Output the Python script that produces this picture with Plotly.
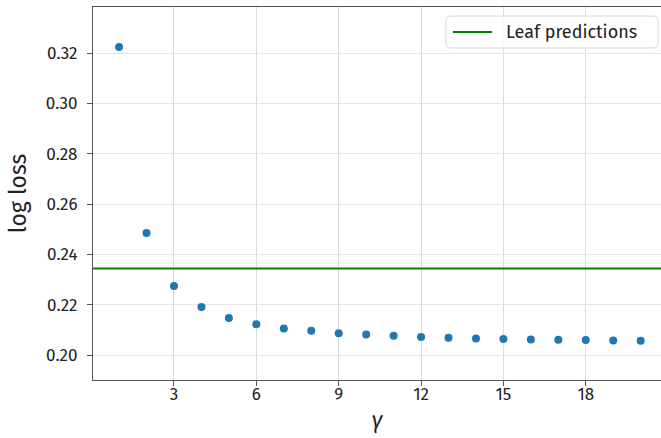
import plotly.graph_objects as go

gamma = list(range(1, 21))
log_loss = [0.3224, 0.2485, 0.2274, 0.2191, 0.2147, 0.2123, 0.2106, 0.2097, 0.2087, 0.2082,
            0.2077, 0.2072, 0.2069, 0.2066, 0.2064, 0.2062, 0.2061, 0.2060, 0.2058, 0.2057]
leaf_pred = 0.2344
legend_label = "Leaf predictions"

x_ticks = [3, 6, 9, 12, 15, 18]
y_ticks = [0.20, 0.22, 0.24, 0.26, 0.28, 0.30, 0.32]

font = "Fira Sans, Lato, Noto Sans, sans-serif"

W, H = 661, 438
ML, MR, MT, MB = 93, 0, 7, 58
PW, PH = W - ML - MR, H - MT - MB


def px(x):
    return (x - ML) / PW


def py(y):
    return (H - MB - y) / PH


fig = go.Figure()
fig.add_trace(go.Scatter(x=[0.05, 20.74], y=[leaf_pred, leaf_pred], mode="lines",
                         line=dict(color="#008000", width=2), name=legend_label,
                         showlegend=False))
fig.add_trace(go.Scatter(x=gamma, y=log_loss, mode="markers",
                         marker=dict(color="#1f77b4", size=8), showlegend=False))

# legend box (rounded) drawn by hand
x0, x1, y0, y1, r = 446, 658, 16, 48, 4
path = (f"M {px(x0 + r)},{py(y0)} L {px(x1 - r)},{py(y0)} Q {px(x1)},{py(y0)} {px(x1)},{py(y0 + r)} "
        f"L {px(x1)},{py(y1 - r)} Q {px(x1)},{py(y1)} {px(x1 - r)},{py(y1)} "
        f"L {px(x0 + r)},{py(y1)} Q {px(x0)},{py(y1)} {px(x0)},{py(y1 - r)} "
        f"L {px(x0)},{py(y0 + r)} Q {px(x0)},{py(y0)} {px(x0 + r)},{py(y0)} Z")
fig.add_shape(type="path", path=path, xref="paper", yref="paper",
              line=dict(color="#d9d9d9", width=1), fillcolor="rgba(255,255,255,0.85)")
fig.add_shape(type="line", xref="paper", yref="paper",
              x0=px(453), x1=px(492), y0=py(32), y1=py(32),
              line=dict(color="#008000", width=2))
fig.add_annotation(text=legend_label, xref="paper", yref="paper",
                   x=px(504), y=py(32), xanchor="left", yanchor="middle",
                   showarrow=False, font=dict(size=18, color="#222"))

fig.update_layout(
    width=W, height=H,
    margin=dict(l=ML, r=MR, t=MT, b=MB),
    plot_bgcolor="white", paper_bgcolor="white",
    font=dict(family=font, size=17, color="#222"),
    showlegend=False,
    xaxis=dict(range=[0.05, 20.74], tickvals=x_ticks, showgrid=True, gridcolor="#dcdcdc",
               showline=True, linecolor="#555", linewidth=1.2, mirror=True,
               ticks="outside", ticklen=5, tickcolor="#555", zeroline=False,
               ticklabelstandoff=-7,
               title=dict(text="<i>γ</i>", font=dict(size=23), standoff=8)),
    yaxis=dict(range=[0.1901, 0.3383], tickvals=y_ticks, tickformat=".2f",
               showgrid=True, gridcolor="#e6e6e6",
               showline=True, linecolor="#555", linewidth=1.2,
               ticks="outside", ticklen=5, tickcolor="#555", zeroline=False,
               ticklabelstandoff=6,
               title=dict(text="log loss", font=dict(size=23), standoff=12)),
)

fig.write_html("out.html")
